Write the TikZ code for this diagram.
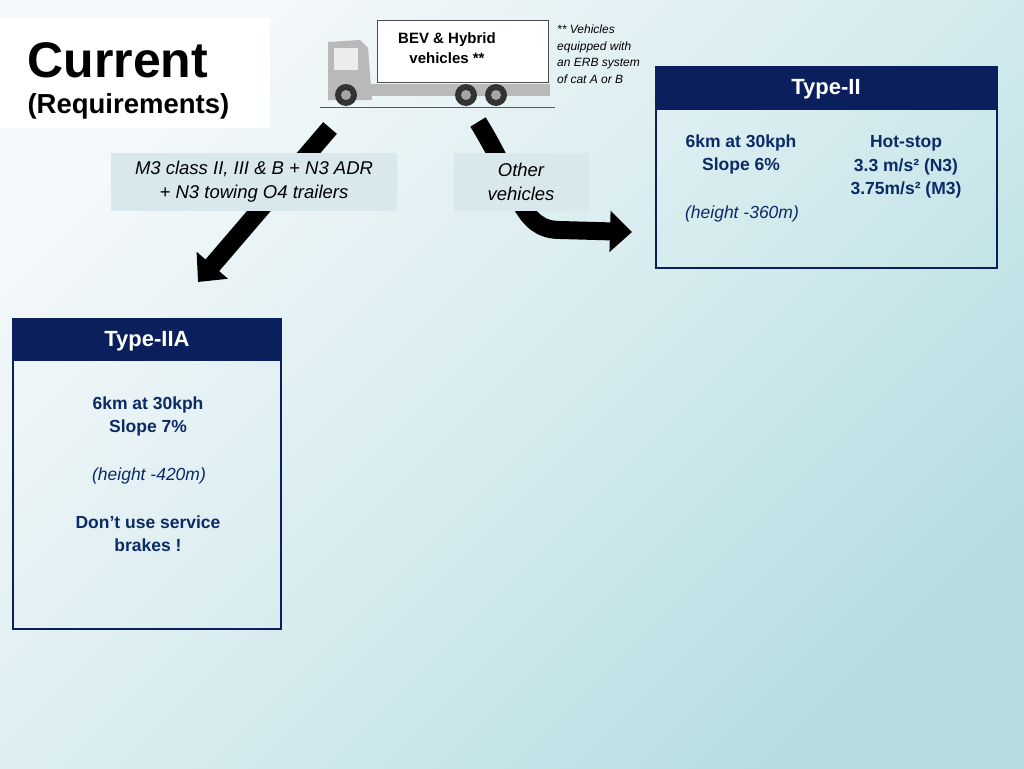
\documentclass[tikz,border=0pt]{standalone}
\usepackage{fontspec}
\setmainfont{Liberation Sans}
\usetikzlibrary{arrows.meta}
\definecolor{navy}{HTML}{0A1F5C}
\definecolor{txt}{HTML}{0B2A66}
\definecolor{lab}{HTML}{D9E8EC}
\definecolor{bgA}{HTML}{F4F8FA}
\definecolor{bgB}{HTML}{B6DEE2}
\begin{document}
\begin{tikzpicture}[x=1pt,y=-1pt,
  hdr/.style={fill=navy,text=white,font=\bfseries\fontsize{22}{26}\selectfont},
  body/.style={text=txt,font=\bfseries\fontsize{17.5}{23.5}\selectfont,align=center},
  lbl/.style={fill=lab,font=\itshape\fontsize{18.5}{24}\selectfont,align=center},
  big/.style={line width=18pt,-{Triangle[length=22pt,width=40pt]}}]
\shade[shading=axis,top color=bgA,bottom color=bgB,middle color=bgA!55!bgB,shading angle=45] (0,0) rectangle (1024,768);
\useasboundingbox (0,0) rectangle (1024,768);
% title
\fill[white] (0,18) rectangle (270,128);
\node[anchor=west,font=\bfseries\fontsize{50}{54}\selectfont] (cur) at (24,60) {Current};
\node[anchor=west,font=\bfseries\fontsize{27.5}{32}\selectfont] (req) at (24,106) {(Requirements)};
% arrows
\coordinate (a1s) at (330,128); \coordinate (a1e) at (198,282);
\draw[big] (a1s) -- (a1e);
\coordinate (a2s) at (478,122); \coordinate (a2e) at (632,232);
\draw[big] (a2s) .. controls (520,190) and (520,230) .. (560,230) -- (a2e);
% truck
\draw[gray!70!black,line width=0.8pt] (320,107) -- (555,107);
\fill[gray!55] (328,42) -- (360,40) -- (368,48) -- (372,100) -- (328,100) -- cycle;
\fill[white!85!gray] (334,48) rectangle (358,70);
\fill[gray!55] (370,84) rectangle (550,96);
\node[draw=gray!60!black,fill=white,minimum width=171pt,minimum height=62pt,anchor=north west,inner sep=0pt] (box) at (377,20) {};
\node[font=\bfseries\fontsize{15}{20}\selectfont,align=center] (bev) at (447,48) {BEV \& Hybrid\\vehicles **};
\foreach \x in {346,466,496}{\fill[gray!40!black] (\x,95) circle (11); \fill[gray!70] (\x,95) circle (5);}
\node[anchor=north west,font=\itshape\fontsize{12}{16.5}\selectfont,align=left,inner sep=0pt] (note) at (557,25) {** Vehicles\\equipped with\\an ERB system\\of cat A or B};
% labels
\node[lbl,minimum width=286pt,minimum height=58pt] (m3) at (254,182) {M3 class II, III \& B + N3 ADR\\+ N3 towing O4 trailers};
\node[lbl,minimum width=135pt,minimum height=58pt] (oth) at (521,182) {Other\\vehicles};
% Type-II
\draw[navy,line width=2pt] (656,67) rectangle (997,268);
\node[hdr,minimum width=343pt,minimum height=44pt,anchor=north west,inner sep=0pt] (t2) at (655,66) {};
\node[font=\bfseries\fontsize{22}{26}\selectfont,text=white] (t2t) at (826,89) {Type-II};
\node[body,anchor=north] (t2a) at (741,131) {6km at 30kph\\Slope 6\%};
\node[text=txt,font=\itshape\fontsize{17.5}{23}\selectfont] (t2b) at (742,214) {(height -360m)};
\node[body,anchor=north] (t2c) at (906,132) {Hot-stop\\3.3 m/s² (N3)\\3.75m/s² (M3)};
% Type-IIA
\draw[navy,line width=2pt] (13,319) rectangle (281,629);
\node[hdr,minimum width=270pt,minimum height=43pt,anchor=north west,inner sep=0pt] (t3) at (12,318) {};
\node[font=\bfseries\fontsize{22}{26}\selectfont,text=white] (t3t) at (147,341) {Type-IIA};
\node[body,anchor=north] (t3a) at (148,393) {6km at 30kph\\Slope 7\%};
\node[text=txt,font=\itshape\fontsize{17.5}{23}\selectfont] (t3b) at (149,476) {(height -420m)};
\node[body,anchor=north] (t3c) at (148,512) {Don’t use service\\brakes !};
\end{tikzpicture}
\end{document}
